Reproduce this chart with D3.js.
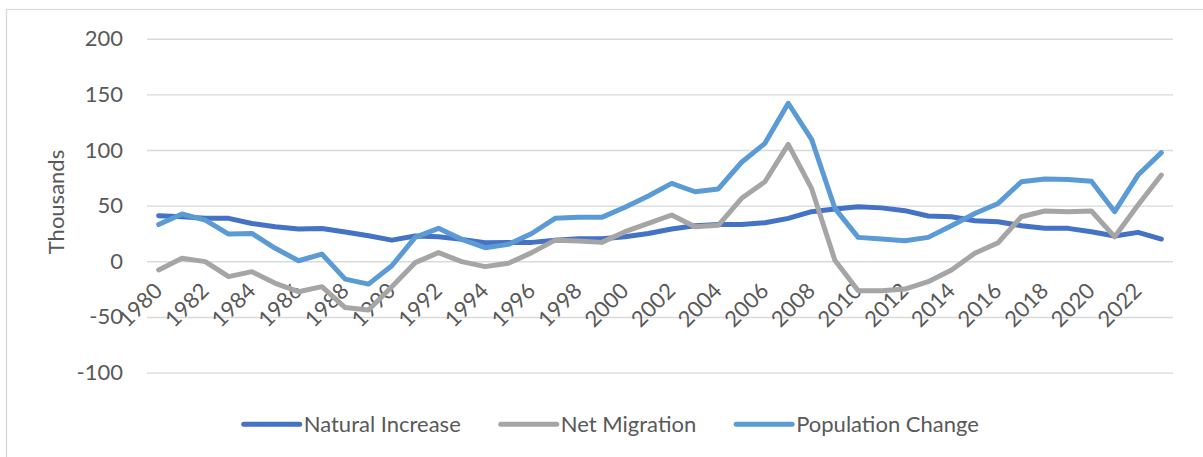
<!DOCTYPE html>
<html>
<head>
<meta charset="utf-8">
<script src="https://cdn.jsdelivr.net/npm/d3@7"></script>
<style>
  html, body { margin: 0; padding: 0; background: #fff; }
  svg { display: block; font-family: Lato, "Open Sans", sans-serif; }
</style>
</head>
<body>
<svg id="chart" width="1203" height="457"></svg>
<script>
// Components of population change, 1980–2023 (thousands)
const years = d3.range(1980, 2024);
const tickYears = d3.range(1980, 2024, 2);
const yTicks = [-100, -50, 0, 50, 100, 150, 200];

const naturalIncrease = [
  41, 40, 38.6, 38.6, 34, 31, 29, 29.5, 26.3, 23,
  19, 22.7, 22, 19.7, 16.7, 17, 17, 19, 20.3, 20.3,
  22, 25, 29, 32, 33, 33, 34.7, 38.6, 44.6, 47,
  49, 48, 45.5, 40.7, 40, 36.5, 35.6, 32, 29.6, 29.6,
  26.6, 22.7, 26, 20
];
const netMigration = [
  -7.8, 2.7, -0.3, -13.8, -9.3, -19.8, -27.3, -22.8, -41.6, -43.7,
  -22.8, -1.2, 7.8, -0.3, -4.8, -1.8, 7.8, 19, 18.2, 17,
  26.6, 34, 41.6, 31, 32.3, 56.6, 71.5, 105, 65.5, 1,
  -26.4, -26.4, -24.9, -18.3, -7.8, 7.2, 16.7, 40, 45.2, 44.6,
  45.2, 22, 50.6, 77.5
];
const populationChange = [
  33, 42.5, 37, 24.5, 25, 11.7, 0.5, 6.5, -16, -20.5,
  -4, 21.5, 29.6, 19.7, 12.2, 15.2, 25, 38.6, 39.5, 39.5,
  48.5, 58.7, 70, 62.5, 65, 89, 106, 142, 109.6, 47.6,
  21.5, 20, 18.5, 21.5, 32, 43, 52, 71.5, 74, 73.6,
  72, 44.6, 77.5, 97.6
];

const seriesNames = ["Natural Increase", "Net Migration", "Population Change"];
const seriesColors = ["#4472C4", "#A5A5A5", "#5B9BD5"];
const seriesValues = [naturalIncrease, netMigration, populationChange];

const svg = d3.select("#chart");
const textColor = "#595959";
const gridColor = "#d9d9d9";
const fontSize = 22;

// outer chart frame
svg.append("rect")
  .attr("x", 6.5).attr("y", 9.5)
  .attr("width", 1300).attr("height", 500)
  .attr("fill", "none").attr("stroke", gridColor).attr("stroke-width", 1.3);

const plot = { left: 147, right: 1173, top: 38.7, bottom: 372.6 };

const x = d3.scaleBand().domain(years).range([plot.left, plot.right]);
const xc = d => x(d) + x.bandwidth() / 2;
const y = d3.scaleLinear().domain([-100, 200]).range([plot.bottom, plot.top]);

// horizontal gridlines and value labels
const yAxis = d3.axisLeft(y)
  .tickValues(yTicks)
  .tickFormat(d => String(d))
  .tickSize(-(plot.right - plot.left))
  .tickPadding(24);
const gy = svg.append("g").attr("transform", `translate(${plot.left},0)`).call(yAxis);
gy.select(".domain").remove();
gy.selectAll(".tick line").attr("stroke", gridColor).attr("stroke-width", 1.4);
gy.selectAll(".tick text")
  .attr("fill", textColor)
  .attr("font-size", fontSize)
  .attr("font-family", "Lato, sans-serif");

// axis title
svg.append("text")
  .attr("transform", "translate(64,202) rotate(-90)")
  .attr("text-anchor", "middle")
  .attr("fill", textColor)
  .attr("font-size", fontSize)
  .text("Thousands");

// category labels along the zero line, rotated
const xAxis = d3.axisBottom(x).tickValues(tickYears).tickSize(0).tickPadding(0);
const gx = svg.append("g").attr("transform", `translate(0,${y(0)})`).call(xAxis);
gx.select(".domain").remove();
gx.selectAll(".tick text")
  .attr("fill", textColor)
  .attr("font-size", fontSize)
  .attr("font-family", "Lato, sans-serif")
  .attr("text-anchor", "end")
  .attr("dy", null)
  .attr("y", 0)
  .attr("transform", "translate(5,31) rotate(-45)");

// series lines
const line = d3.line()
  .x((d, i) => xc(years[i]))
  .y(d => y(d));

seriesValues.forEach((vals, k) => {
  svg.append("path")
    .datum(vals)
    .attr("d", line)
    .attr("fill", "none")
    .attr("stroke", seriesColors[k])
    .attr("stroke-width", 5)
    .attr("stroke-linejoin", "round")
    .attr("stroke-linecap", "round");
});

// legend
const legend = svg.append("g");
const sampleLen = 56, sampleGap = 4, itemGap = 40, legendY = 424.3;
const items = seriesNames.map((name, k) => {
  const g = legend.append("g");
  g.append("line")
    .attr("x1", 0).attr("x2", sampleLen)
    .attr("y1", 0).attr("y2", 0)
    .attr("stroke", seriesColors[k])
    .attr("stroke-width", 5)
    .attr("stroke-linecap", "round");
  const t = g.append("text")
    .attr("x", sampleLen + sampleGap)
    .attr("dy", "0.35em")
    .attr("fill", textColor)
    .attr("font-size", fontSize)
    .text(name);
  return { g, w: sampleLen + sampleGap + t.node().getComputedTextLength() };
});
const total = d3.sum(items, d => d.w) + itemGap * (items.length - 1);
let cursor = 611.3 - total / 2;
items.forEach(it => {
  it.g.attr("transform", `translate(${cursor},${legendY})`);
  cursor += it.w + itemGap;
});
</script>
</body>
</html>
